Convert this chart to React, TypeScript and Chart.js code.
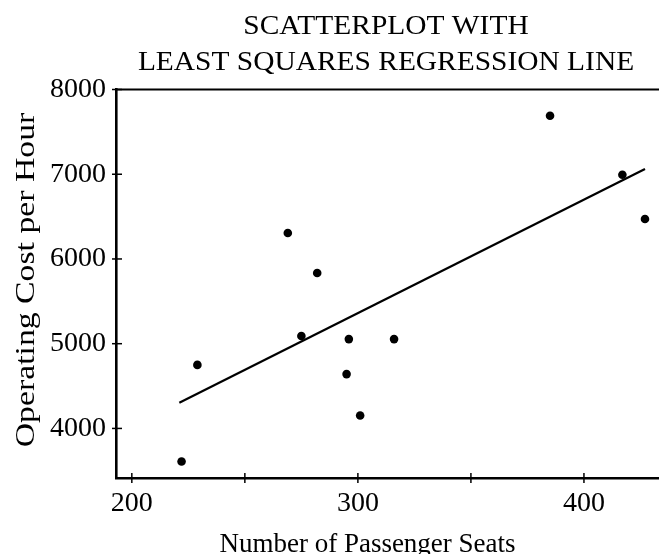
import { useEffect, useRef } from 'react';
import { Chart, registerables } from 'chart.js';

Chart.register(...registerables);

const TITLE_LINES = ['SCATTERPLOT WITH', 'LEAST SQUARES REGRESSION LINE'];
const X_LABEL = 'Number of Passenger Seats';
const Y_LABEL = 'Operating Cost per Hour';

// observed data
const seats = [222, 229, 269, 282, 275, 296, 316, 295, 301, 385, 417, 427];
const costs = [3610, 4750, 6306, 5834, 5090, 5054, 5054, 4641, 4153, 7691, 6994, 6471];

// least squares regression line end points
const fitSeats = [221, 427];
const fitCosts = [4302, 7061];

// axis ticks
const xTickValues = [200, 250, 300, 350, 400];
const xTickLabels = ['200', '', '300', '', '400'];
const yTickValues = [4000, 5000, 6000, 7000, 8000];
const yTickLabels = ['4000', '5000', '6000', '7000', '8000'];
const xMin = 193;
const xMax = 433.2;
const yMin = 3415;
const yMax = 8000;

const FONT = '"Liberation Serif", "Times New Roman", serif';

export default function App() {
  const canvasRef = useRef<HTMLCanvasElement | null>(null);

  useEffect(() => {
    const canvas = canvasRef.current;
    if (!canvas) return;

    const decorations = {
      id: 'decorations',
      afterDraw(chart: any) {
        const { ctx, chartArea, scales } = chart;
        const xs = scales.x;
        const ys = scales.y;
        ctx.save();
        ctx.strokeStyle = '#000';
        ctx.lineWidth = 1.5;
        xs.ticks.forEach((t: any) => {
          const px = xs.getPixelForValue(t.value);
          ctx.beginPath();
          ctx.moveTo(px, chartArea.bottom - 5);
          ctx.lineTo(px, chartArea.bottom + 5);
          ctx.stroke();
        });
        ys.ticks.forEach((t: any) => {
          const py = ys.getPixelForValue(t.value);
          ctx.beginPath();
          ctx.moveTo(chartArea.left - 4, py);
          ctx.lineTo(chartArea.left + 6, py);
          ctx.stroke();
        });
        // top frame line
        ctx.lineWidth = 2.2;
        ctx.beginPath();
        ctx.moveTo(chartArea.left - 1, chartArea.top);
        ctx.lineTo(chart.width, chartArea.top);
        ctx.stroke();

        ctx.fillStyle = '#000';
        ctx.textBaseline = 'alphabetic';
        ctx.textAlign = 'center';

        // chart title (two lines, slightly wide type)
        ctx.font = '27px ' + FONT;
        const titleBaselines = [33.5, 70];
        TITLE_LINES.forEach((line, i) => {
          ctx.save();
          ctx.translate(386, titleBaselines[i]);
          ctx.scale(1.09, 1);
          ctx.fillText(line, 0, 0);
          ctx.restore();
        });

        // x-axis title
        ctx.font = '27px ' + FONT;
        ctx.fillText(X_LABEL, 367.5, 552);

        // y-axis title (rotated, stretched along its length)
        ctx.save();
        ctx.translate(33.5, 280);
        ctx.rotate(-Math.PI / 2);
        ctx.scale(1.25, 1);
        ctx.font = '27px ' + FONT;
        ctx.fillText(Y_LABEL, 0, 0);
        ctx.restore();

        ctx.restore();
      },
    };

    const chart = new Chart(canvas, {
      type: 'scatter',
      data: {
        datasets: [
          {
            label: 'Observed',
            data: seats.map((s, i) => ({ x: s, y: costs[i] })),
            backgroundColor: '#000',
            borderColor: '#000',
            borderWidth: 0,
            pointRadius: 4.3,
            pointHoverRadius: 4.3,
          },
          {
            label: 'Fit',
            data: fitSeats.map((s, i) => ({ x: s, y: fitCosts[i] })),
            showLine: true,
            borderColor: '#000',
            borderWidth: 2.2,
            pointRadius: 0,
            fill: false,
          },
        ],
      },
      options: {
        responsive: false,
        maintainAspectRatio: false,
        animation: false,
        layout: { autoPadding: false, padding: { top: 89.5, left: 0, right: 0, bottom: 0 } },
        plugins: {
          legend: { display: false },
          tooltip: { enabled: false },
          title: { display: false },
        },
        scales: {
          x: {
            type: 'linear',
            position: 'bottom',
            min: xMin,
            max: xMax,
            grid: { display: false, drawTicks: false },
            border: { display: true, color: '#000', width: 2.6 },
            afterBuildTicks: (scale: any) => {
              scale.ticks = xTickValues.map((v) => ({ value: v }));
            },
            ticks: {
              padding: 9,
              color: '#000',
              font: { family: FONT, size: 28 },
              maxRotation: 0,
              autoSkip: false,
              callback: (v: any) => {
                const i = xTickValues.indexOf(Number(v));
                return i >= 0 ? xTickLabels[i] : '';
              },
            },
            afterFit: (scale: any) => {
              scale.height = 76;
            },
          },
          y: {
            type: 'linear',
            position: 'left',
            min: yMin,
            max: yMax,
            grid: { display: false, drawTicks: false },
            border: { display: true, color: '#000', width: 2.6 },
            afterBuildTicks: (scale: any) => {
              scale.ticks = yTickValues.map((v) => ({ value: v }));
            },
            ticks: {
              padding: 10,
              color: '#000',
              font: { family: FONT, size: 28 },
              autoSkip: false,
              callback: (v: any) => {
                const i = yTickValues.indexOf(Number(v));
                return i >= 0 ? yTickLabels[i] : '';
              },
            },
            afterFit: (scale: any) => {
              scale.width = 116;
            },
          },
        },
      },
      plugins: [decorations],
    } as any);

    return () => chart.destroy();
  }, []);

  return (
    <div style={{ position: 'absolute', left: 0, top: 0, width: 659, height: 554, background: '#fff' }}>
      <canvas ref={canvasRef} width={659} height={554} />
    </div>
  );
}
